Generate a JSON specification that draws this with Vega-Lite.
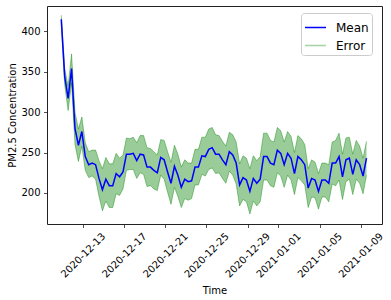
{
"$schema": "https://vega.github.io/schema/vega-lite/v6.json",
"width": 335, "height": 218,
"autosize": {"type": "none"},
"padding": {"left": 47, "top": 6, "right": 9, "bottom": 76},
"config": {
  "font": "DejaVu Sans",
  "view": {"stroke": "#222", "strokeWidth": 1},
  "axis": {"domain": false, "grid": false, "tickColor": "#222", "tickSize": 3.5, "tickWidth": 0.8, "labelColor": "#000", "labelFontSize": 10, "titleFontSize": 10, "titleFontWeight": "normal", "titleColor": "#000", "labelPadding": 3.5}
},
"data": {"values": [
{"t":"2020-12-10T21:30","m":415,"lo":410,"hi":420},
{"t":"2020-12-11T05:30","m":344,"lo":334,"hi":354},
{"t":"2020-12-11T13:30","m":317,"lo":302,"hi":332},
{"t":"2020-12-11T21:30","m":354,"lo":336,"hi":372},
{"t":"2020-12-12T05:30","m":280,"lo":260,"hi":300},
{"t":"2020-12-12T13:30","m":259,"lo":239,"hi":279},
{"t":"2020-12-12T21:30","m":276,"lo":258,"hi":294},
{"t":"2020-12-13T05:30","m":245,"lo":228,"hi":262},
{"t":"2020-12-13T13:30","m":235,"lo":219,"hi":251},
{"t":"2020-12-13T21:30","m":237,"lo":221,"hi":253},
{"t":"2020-12-14T05:30","m":235,"lo":217,"hi":253},
{"t":"2020-12-14T13:30","m":218,"lo":196,"hi":240},
{"t":"2020-12-14T21:30","m":204,"lo":178,"hi":230},
{"t":"2020-12-15T05:30","m":217,"lo":190,"hi":244},
{"t":"2020-12-15T13:30","m":209,"lo":182,"hi":236},
{"t":"2020-12-15T21:30","m":209,"lo":182,"hi":236},
{"t":"2020-12-16T05:30","m":224,"lo":199,"hi":249},
{"t":"2020-12-16T13:30","m":220,"lo":197,"hi":243},
{"t":"2020-12-16T21:30","m":226,"lo":205,"hi":247},
{"t":"2020-12-17T05:30","m":248,"lo":228,"hi":268},
{"t":"2020-12-17T13:30","m":248,"lo":229,"hi":267},
{"t":"2020-12-17T21:30","m":249,"lo":229,"hi":269},
{"t":"2020-12-18T05:30","m":240,"lo":218,"hi":262},
{"t":"2020-12-18T13:30","m":248,"lo":225,"hi":271},
{"t":"2020-12-18T21:30","m":247,"lo":223,"hi":271},
{"t":"2020-12-19T05:30","m":232,"lo":208,"hi":256},
{"t":"2020-12-19T13:30","m":232,"lo":209,"hi":255},
{"t":"2020-12-19T21:30","m":228,"lo":205,"hi":251},
{"t":"2020-12-20T05:30","m":225,"lo":203,"hi":247},
{"t":"2020-12-20T13:30","m":244,"lo":222,"hi":266},
{"t":"2020-12-20T21:30","m":241,"lo":217,"hi":265},
{"t":"2020-12-21T05:30","m":226,"lo":201,"hi":251},
{"t":"2020-12-21T13:30","m":212,"lo":186,"hi":238},
{"t":"2020-12-21T21:30","m":233,"lo":207,"hi":259},
{"t":"2020-12-22T05:30","m":222,"lo":196,"hi":248},
{"t":"2020-12-22T13:30","m":207,"lo":182,"hi":232},
{"t":"2020-12-22T21:30","m":217,"lo":193,"hi":241},
{"t":"2020-12-23T05:30","m":214,"lo":191,"hi":237},
{"t":"2020-12-23T13:30","m":215,"lo":193,"hi":237},
{"t":"2020-12-23T21:30","m":232,"lo":210,"hi":254},
{"t":"2020-12-24T05:30","m":232,"lo":210,"hi":254},
{"t":"2020-12-24T13:30","m":246,"lo":223,"hi":269},
{"t":"2020-12-24T21:30","m":245,"lo":221,"hi":269},
{"t":"2020-12-25T05:30","m":254,"lo":229,"hi":279},
{"t":"2020-12-25T13:30","m":256,"lo":231,"hi":281},
{"t":"2020-12-25T21:30","m":248,"lo":224,"hi":272},
{"t":"2020-12-26T05:30","m":248,"lo":225,"hi":271},
{"t":"2020-12-26T13:30","m":241,"lo":218,"hi":264},
{"t":"2020-12-26T21:30","m":235,"lo":212,"hi":258},
{"t":"2020-12-27T05:30","m":251,"lo":227,"hi":275},
{"t":"2020-12-27T13:30","m":247,"lo":222,"hi":272},
{"t":"2020-12-27T21:30","m":237,"lo":211,"hi":263},
{"t":"2020-12-28T05:30","m":210,"lo":184,"hi":236},
{"t":"2020-12-28T13:30","m":219,"lo":192,"hi":246},
{"t":"2020-12-28T21:30","m":216,"lo":189,"hi":243},
{"t":"2020-12-29T05:30","m":202,"lo":174,"hi":230},
{"t":"2020-12-29T13:30","m":218,"lo":190,"hi":246},
{"t":"2020-12-29T21:30","m":212,"lo":184,"hi":240},
{"t":"2020-12-30T05:30","m":217,"lo":189,"hi":245},
{"t":"2020-12-30T13:30","m":245,"lo":216,"hi":274},
{"t":"2020-12-30T21:30","m":245,"lo":216,"hi":274},
{"t":"2020-12-31T05:30","m":237,"lo":209,"hi":265},
{"t":"2020-12-31T13:30","m":235,"lo":207,"hi":263},
{"t":"2020-12-31T21:30","m":253,"lo":225,"hi":281},
{"t":"2021-01-01T05:30","m":249,"lo":221,"hi":277},
{"t":"2021-01-01T13:30","m":235,"lo":207,"hi":263},
{"t":"2021-01-01T21:30","m":249,"lo":222,"hi":276},
{"t":"2021-01-02T05:30","m":243,"lo":216,"hi":270},
{"t":"2021-01-02T13:30","m":224,"lo":198,"hi":250},
{"t":"2021-01-02T21:30","m":245,"lo":219,"hi":271},
{"t":"2021-01-03T05:30","m":241,"lo":215,"hi":267},
{"t":"2021-01-03T13:30","m":235,"lo":210,"hi":260},
{"t":"2021-01-03T21:30","m":206,"lo":182,"hi":230},
{"t":"2021-01-04T05:30","m":218,"lo":195,"hi":241},
{"t":"2021-01-04T13:30","m":216,"lo":194,"hi":238},
{"t":"2021-01-04T21:30","m":202,"lo":180,"hi":224},
{"t":"2021-01-05T05:30","m":216,"lo":195,"hi":237},
{"t":"2021-01-05T13:30","m":216,"lo":195,"hi":237},
{"t":"2021-01-05T21:30","m":212,"lo":189,"hi":235},
{"t":"2021-01-06T05:30","m":237,"lo":211,"hi":263},
{"t":"2021-01-06T13:30","m":237,"lo":209,"hi":265},
{"t":"2021-01-06T21:30","m":245,"lo":216,"hi":274},
{"t":"2021-01-07T05:30","m":220,"lo":192,"hi":248},
{"t":"2021-01-07T13:30","m":241,"lo":214,"hi":268},
{"t":"2021-01-07T21:30","m":243,"lo":217,"hi":269},
{"t":"2021-01-08T05:30","m":223,"lo":198,"hi":248},
{"t":"2021-01-08T13:30","m":241,"lo":217,"hi":265},
{"t":"2021-01-08T21:30","m":235,"lo":212,"hi":258},
{"t":"2021-01-09T05:30","m":221,"lo":199,"hi":243},
{"t":"2021-01-09T13:30","m":243,"lo":222,"hi":264}
]},
"encoding": {
  "x": {"field": "t", "type": "temporal",
    "scale": {"domain": [{"year":2020,"month":12,"date":9,"hours":12,"minutes":13}, {"year":2021,"month":1,"date":11,"hours":1,"minutes":40}]},
    "axis": {"title": "Time", "format": "%Y-%m-%d",
      "values": [{"year":2020,"month":12,"date":13},{"year":2020,"month":12,"date":17},{"year":2020,"month":12,"date":21},{"year":2020,"month":12,"date":25},{"year":2020,"month":12,"date":29},{"year":2021,"month":1,"date":1},{"year":2021,"month":1,"date":5},{"year":2021,"month":1,"date":9}],
      "labelAngle": -45, "labelAlign": "center", "labelBaseline": "middle", "labelPadding": 27.5,
      "labelOverlap": false, "labelFlush": false,
      "titleBaseline": "alphabetic", "titleY": 69}}
},
"layer": [
  {"mark": {"type": "area", "fill": "#008000", "fillOpacity": 0.4, "strokeWidth": 0},
   "encoding": {
     "y": {"field": "lo", "type": "quantitative",
       "scale": {"domain": [161.6, 431.3], "nice": false, "zero": false},
       "axis": {"title": "PM2.5 Concentration", "values": [200, 250, 300, 350, 400], "titleBaseline": "alphabetic", "titleX": -32}},
     "y2": {"field": "hi"},
     "stroke": {"datum": "Error", "type": "nominal",
       "scale": {"domain": ["Mean", "Error"], "range": ["#0000ff", "#a6d2a6"]},
       "legend": {"title": null, "orient": "none", "legendX": 254, "legendY": 7, "symbolType": "stroke", "symbolSize": 440, "symbolStrokeWidth": 1.5, "labelFontSize": 12, "labelOffset": 9, "padding": 3, "rowPadding": -1, "strokeColor": "#cccccc", "fillColor": "rgba(255,255,255,0.8)", "cornerRadius": 3}}
   }},
  {"mark": {"type": "line", "stroke": "#008000", "strokeOpacity": 0.4, "strokeWidth": 1},
   "encoding": {"y": {"field": "lo", "type": "quantitative"}}},
  {"mark": {"type": "line", "stroke": "#008000", "strokeOpacity": 0.4, "strokeWidth": 1},
   "encoding": {"y": {"field": "hi", "type": "quantitative"}}},
  {"mark": {"type": "line", "strokeWidth": 1.5},
   "encoding": {"y": {"field": "m", "type": "quantitative"}, "stroke": {"datum": "Mean", "type": "nominal"}}}
]
}
